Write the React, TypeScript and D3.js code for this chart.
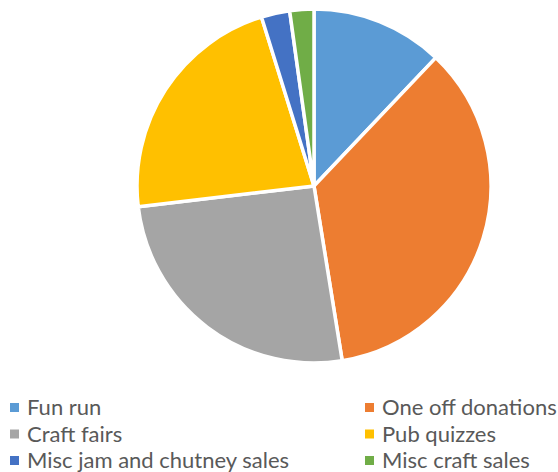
import React from "react";
import * as d3 from "d3";

const categories = ["Fun run", "One off donations", "Craft fairs", "Pub quizzes", "Misc jam and chutney sales", "Misc craft sales"];
const values = [12.1, 35.4, 25.7, 22.1, 2.6, 2.2];
const colors = ["#5B9BD5", "#ED7D31", "#A5A5A5", "#FFC000", "#4472C4", "#70AD47"];

export default function App() {
  const W = 558, H = 472;
  const cx = 314, cy = 186, r = 177;
  const pie = d3.pie<number>().sort(null).value((d) => d);
  const arcs = pie(values);
  const arc = d3.arc<d3.PieArcDatum<number>>().innerRadius(0).outerRadius(r);
  const rowY = [407.5, 434, 460.5];
  const colX = [10, 365];
  return (
    <svg width={W} height={H} style={{ position: "absolute", left: 0, top: 0 }}>
      <rect width={W} height={H} fill="#fff" />
      <g transform={`translate(${cx},${cy})`}>
        {arcs.map((a, i) => (
          <path key={i} d={arc(a) || ""} fill={colors[i]} stroke="#fff" strokeWidth={3.5} strokeLinejoin="round" />
        ))}
      </g>
      {categories.map((c, i) => {
        const x = colX[i % 2];
        const y = rowY[Math.floor(i / 2)];
        return (
          <g key={c}>
            <rect x={x} y={y - 4.5} width={9} height={9} fill={colors[i]} />
            <text x={x + 17} y={y} dy="0.36em" fontFamily="Lato, sans-serif" fontSize={22} fill="#595959">{c}</text>
          </g>
        );
      })}
    </svg>
  );
}
